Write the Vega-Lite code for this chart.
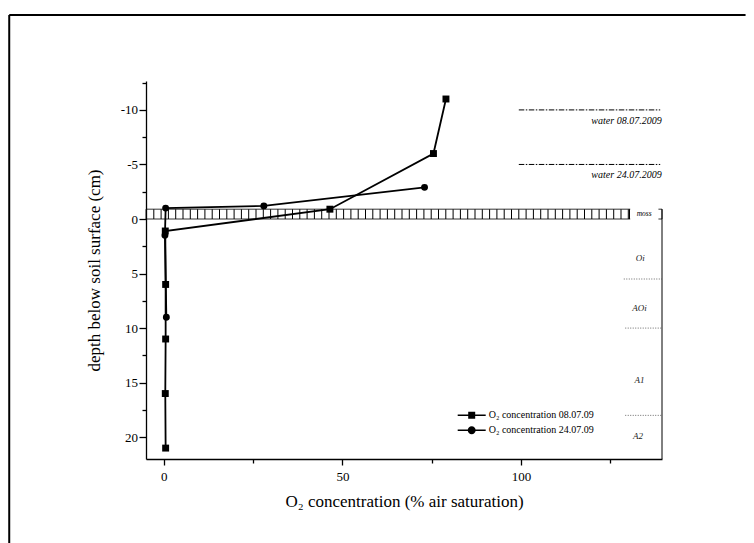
{
  "$schema": "https://vega.github.io/schema/vega-lite/v6.json",
  "width": 516,
  "height": 378,
  "autosize": {"type": "none"},
  "padding": {"left": 146, "top": 81, "right": 92, "bottom": 84},
  "background": "white",
  "config": {
    "view": {"stroke": null},
    "font": "Liberation Serif",
    "axis": {"labelFont": "Liberation Serif", "titleFont": "Liberation Serif", "labelColor": "black", "titleColor": "black", "tickColor": "black", "domainColor": "black", "labelFontSize": 13, "titleFontSize": 17, "titleFontWeight": "normal"},
    "legend": {"labelFont": "Liberation Serif"}
  },
  "datasets": {
    "profiles": [
      {"series": "O₂ concentration 08.07.09", "o2": 79, "depth": -11},
      {"series": "O₂ concentration 08.07.09", "o2": 75.5, "depth": -6},
      {"series": "O₂ concentration 08.07.09", "o2": 46.5, "depth": -0.9},
      {"series": "O₂ concentration 08.07.09", "o2": 0.4, "depth": 1.1},
      {"series": "O₂ concentration 08.07.09", "o2": 0.5, "depth": 6},
      {"series": "O₂ concentration 08.07.09", "o2": 0.5, "depth": 11},
      {"series": "O₂ concentration 08.07.09", "o2": 0.4, "depth": 16},
      {"series": "O₂ concentration 08.07.09", "o2": 0.5, "depth": 21},
      {"series": "O₂ concentration 24.07.09", "o2": 73, "depth": -2.9},
      {"series": "O₂ concentration 24.07.09", "o2": 28, "depth": -1.2},
      {"series": "O₂ concentration 24.07.09", "o2": 0.5, "depth": -1.0},
      {"series": "O₂ concentration 24.07.09", "o2": 0.3, "depth": 1.5},
      {"series": "O₂ concentration 24.07.09", "o2": 0.7, "depth": 9}
    ],
    "frame": [
      {"o2": -43.3, "o2end": 162.9, "depth": -18.7, "depthend": -18.7},
      {"o2": -43.3, "o2end": -43.3, "depth": -18.7, "depthend": 32}
    ],
    "water": [
      {"o2": 99.4, "o2end": 139, "depth": -10},
      {"o2": 99.4, "o2end": 139, "depth": -5}
    ],
    "horizons": [
      {"o2": 128.8, "o2end": 139.5, "depth": 5.5},
      {"o2": 129.2, "o2end": 139.5, "depth": 10},
      {"o2": 129.2, "o2end": 139.5, "depth": 18}
    ],
    "waterLabels": [
      {"label": "water 08.07.2009", "o2": 139.4, "depth": -9.0},
      {"label": "water 24.07.2009", "o2": 139.4, "depth": -4.0}
    ],
    "horizonLabels": [
      {"label": "Oi", "o2": 133.4, "depth": 3.6},
      {"label": "AOi", "o2": 133.2, "depth": 8.2},
      {"label": "A1", "o2": 133.2, "depth": 14.8},
      {"label": "A2", "o2": 132.8, "depth": 19.9}
    ]
  },
  "encoding": {
    "x": {
      "field": "o2", "type": "quantitative",
      "scale": {"domain": [-5, 139.5], "nice": false, "zero": false},
      "axis": {
        "title": "O₂ concentration (% air saturation)",
        "values": [0, 25, 50, 75, 100, 125],
        "labelExpr": "datum.value % 50 === 0 ? '' + datum.value : ''",
        "tickSize": {"condition": {"test": "datum.value % 50 === 0", "value": 6}, "value": 4},
        "grid": false,
        "domainColor": "black", "tickColor": "black", "domainWidth": 1.3, "tickWidth": 1.3,
        "labelFont": "Liberation Serif", "labelFontSize": 13, "labelColor": "black", "labelPadding": 5,
        "titleFont": "Liberation Serif", "titleFontSize": 17, "titleFontWeight": "normal", "titleColor": "black", "titlePadding": 10
      }
    },
    "y": {
      "field": "depth", "type": "quantitative",
      "scale": {"domain": [-12.65, 22], "reverse": true, "nice": false, "zero": false},
      "axis": {
        "title": "depth below soil surface (cm)",
        "values": [-12.5, -10, -7.5, -5, -2.5, 0, 2.5, 5, 7.5, 10, 12.5, 15, 17.5, 20],
        "labelExpr": "datum.value % 5 === 0 ? '' + datum.value : ''",
        "tickSize": {"condition": {"test": "datum.value % 5 === 0", "value": 7}, "value": 4},
        "grid": false,
        "domainColor": "black", "tickColor": "black", "domainWidth": 1.3, "tickWidth": 1.3,
        "labelFont": "Liberation Serif", "labelFontSize": 13, "labelColor": "black", "labelPadding": 1.5,
        "titleFont": "Liberation Serif", "titleFontSize": 17, "titleFontWeight": "normal", "titleColor": "black", "titlePadding": 17
      }
    }
  },
  "layer": [
    {
      "data": {"name": "frame"},
      "mark": {"type": "rule", "color": "black", "strokeWidth": 2},
      "encoding": {"x2": {"field": "o2end"}, "y2": {"field": "depthend"}}
    },
    {
      "data": {"values": [{"o2": -5, "o2end": 139.5, "depth": -0.9, "depthend": 0}]},
      "mark": {"type": "rect", "fill": null, "fillOpacity": 0, "stroke": "black", "strokeWidth": 0.8},
      "encoding": {"x2": {"field": "o2end"}, "y2": {"field": "depthend"}}
    },
    {
      "data": {"values": [{"o2": -5, "o2end": 130.4, "depth": -0.45}]},
      "mark": {"type": "rule", "color": "black", "strokeWidth": 9.8, "strokeDash": [1, 6.3], "strokeCap": "butt"},
      "encoding": {"x2": {"field": "o2end"}}
    },
    {
      "data": {"values": [{"o2": 130.6, "o2end": 138.5, "depth": -1.3, "depthend": 0.3}]},
      "mark": {"type": "rect", "fill": "white", "stroke": null},
      "encoding": {"x2": {"field": "o2end"}, "y2": {"field": "depthend"}}
    },
    {
      "data": {"values": [{"o2": 130.4, "depth": -0.9, "depthend": 0}, {"o2": 139.5, "depth": -0.9, "depthend": 22}]},
      "mark": {"type": "rule", "color": "black", "strokeWidth": 1},
      "encoding": {"y2": {"field": "depthend"}}
    },
    {
      "data": {"values": [{"label": "moss", "o2": 134.5, "depth": -0.45}]},
      "mark": {"type": "text", "font": "Liberation Serif", "fontStyle": "italic", "fontSize": 7.5, "color": "black", "align": "center", "baseline": "middle"},
      "encoding": {"text": {"field": "label"}}
    },
    {
      "data": {"name": "water"},
      "mark": {"type": "rule", "color": "black", "strokeWidth": 1, "strokeDash": [5.5, 1.5, 1.5, 1.5]},
      "encoding": {"x2": {"field": "o2end"}}
    },
    {
      "data": {"name": "horizons"},
      "mark": {"type": "rule", "color": "#444", "strokeWidth": 0.8, "strokeDash": [1, 1.5]},
      "encoding": {"x2": {"field": "o2end"}}
    },
    {
      "data": {"name": "waterLabels"},
      "mark": {"type": "text", "font": "Liberation Serif", "fontStyle": "italic", "fontSize": 10, "color": "black", "align": "right", "baseline": "middle"},
      "encoding": {"text": {"field": "label"}}
    },
    {
      "data": {"name": "horizonLabels"},
      "mark": {"type": "text", "font": "Liberation Serif", "fontStyle": "italic", "fontSize": 9, "color": "#222", "align": "center", "baseline": "middle"},
      "encoding": {"text": {"field": "label"}}
    },
    {
      "data": {"name": "profiles"},
      "mark": {"type": "line", "color": "black", "strokeWidth": 1.8},
      "encoding": {
        "detail": {"field": "series"},
        "order": {"field": "depth", "type": "quantitative"}
      }
    },
    {
      "data": {"name": "profiles"},
      "mark": {"type": "point", "filled": true, "color": "black", "opacity": 1, "size": 48},
      "encoding": {
        "shape": {"field": "series", "type": "nominal", "scale": {"domain": ["O₂ concentration 08.07.09", "O₂ concentration 24.07.09"], "range": ["square", "circle"]}, "legend": null}
      }
    },
    {
      "data": {"name": "profiles"},
      "transform": [{"filter": "false"}],
      "mark": {"type": "point", "filled": true, "color": "black", "opacity": 1},
      "encoding": {
        "shape": {
          "field": "series", "type": "nominal",
          "scale": {
            "domain": ["O₂ concentration 08.07.09", "O₂ concentration 24.07.09"],
            "range": ["M-2,-0.1H2V0.1H-2ZM-0.5,-0.5H0.5V0.5H-0.5Z", "M-2,-0.1H2V0.1H-2ZM0.57,0A0.57,0.57,0,1,1,-0.57,0A0.57,0.57,0,1,1,0.57,0Z"]
          },
          "legend": {
            "orient": "none", "legendX": 317.7, "legendY": 326.3, "title": null,
            "labelFont": "Liberation Serif", "labelFontSize": 10, "labelColor": "black", "labelOffset": 9,
            "symbolSize": 196, "symbolFillColor": "black", "symbolOpacity": 1,
            "rowPadding": 0,
            "encode": {"symbols": {"fill": {"value": "black"}}}
          }
        }
      }
    }
  ],
  "resolve": {"scale": {"shape": "independent"}}
}
